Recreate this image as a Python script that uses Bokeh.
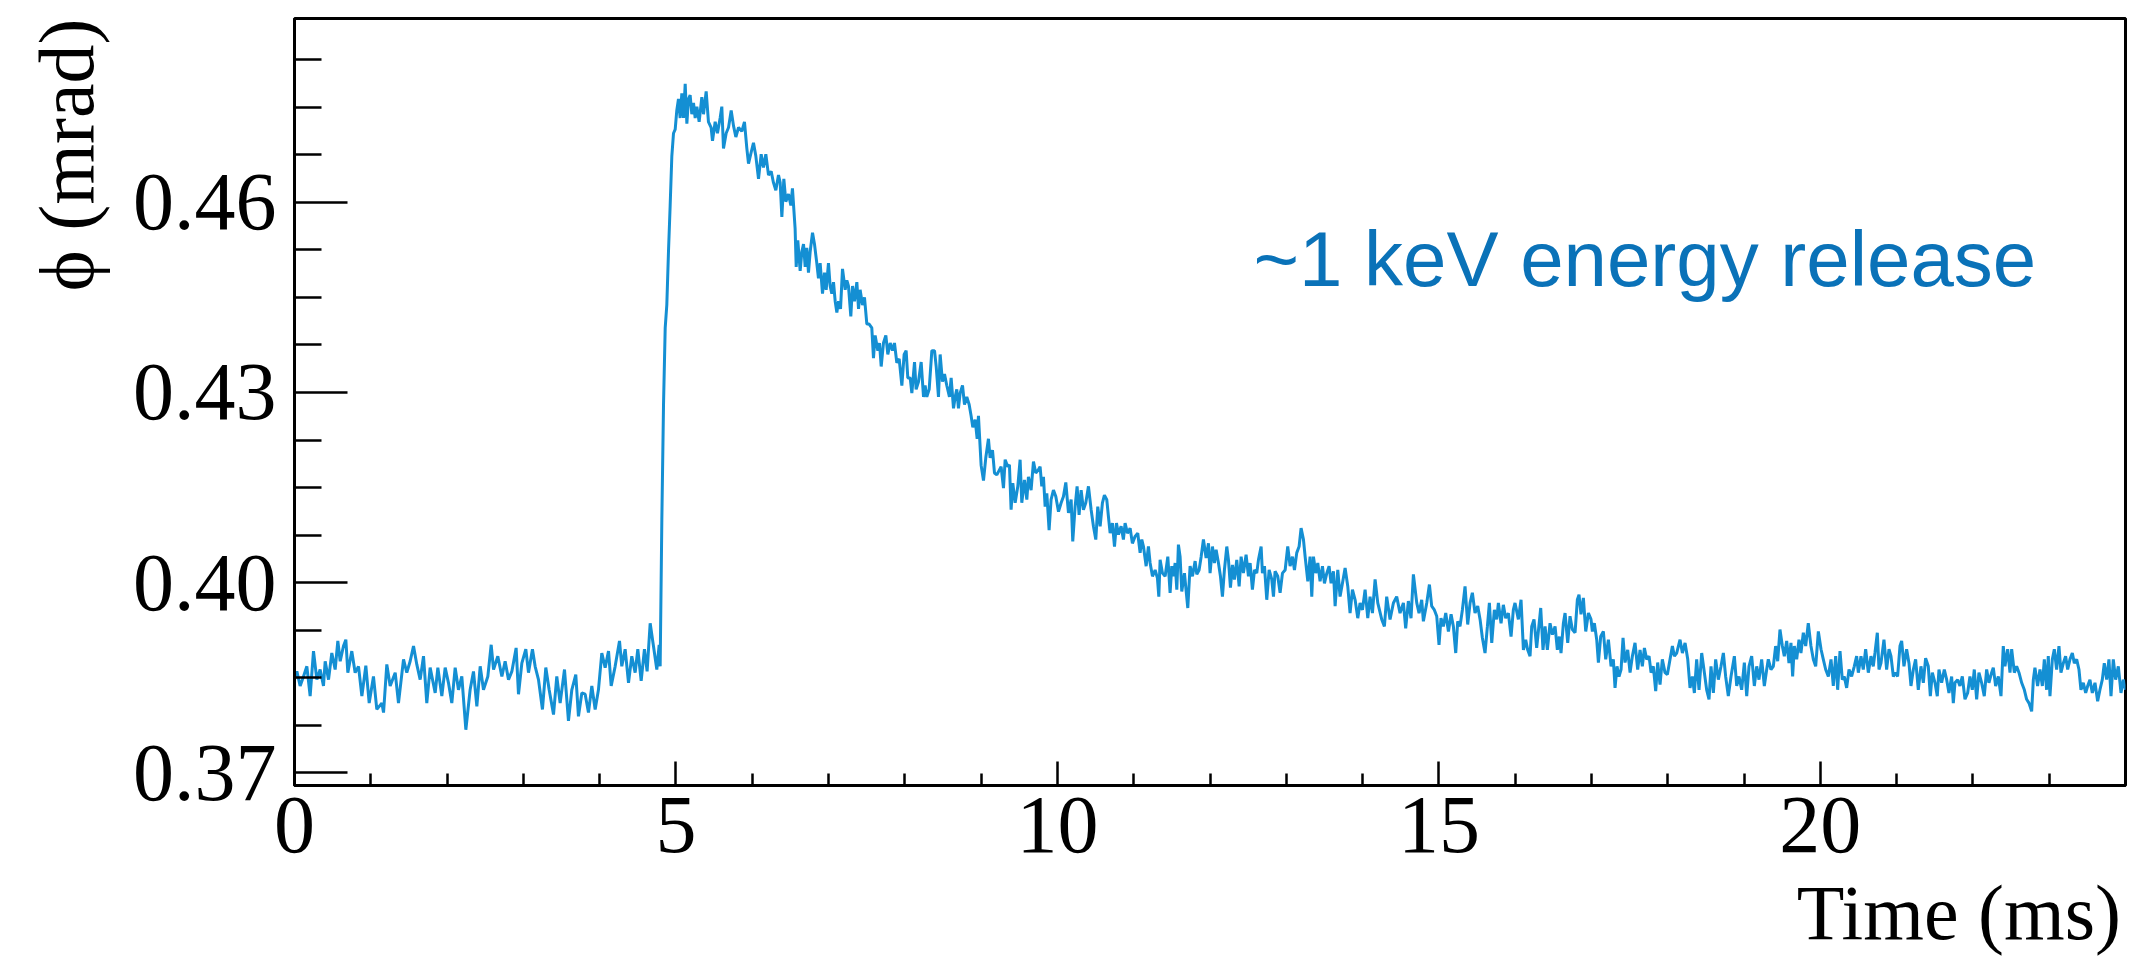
import math
from bokeh.plotting import figure
from bokeh.models import FixedTicker, Label, Range1d, PrintfTickFormatter, Title
from bokeh.embed import file_html
from bokeh.resources import INLINE

# ---- data: time (ms) and phase (mrad) ----
time_ms = [
    0.0, 0.031, 0.074, 0.118, 0.162, 0.205, 0.249, 0.293, 0.336, 0.380, 0.402, 0.446, 0.489, 0.533,
    0.568, 0.599, 0.642, 0.673, 0.699, 0.751, 0.795, 0.839, 0.883, 0.935, 0.979, 1.035, 1.079, 1.145,
    1.167, 1.210, 1.254, 1.320, 1.363, 1.429, 1.472, 1.516, 1.560, 1.603, 1.647, 1.691, 1.734, 1.778,
    1.844, 1.879, 1.931, 1.975, 2.018, 2.062, 2.106, 2.149, 2.193, 2.246, 2.302, 2.346, 2.390, 2.434,
    2.477, 2.534, 2.578, 2.609, 2.665, 2.718, 2.761, 2.805, 2.849, 2.905, 2.936, 2.980, 3.032, 3.067,
    3.119, 3.154, 3.198, 3.250, 3.294, 3.338, 3.395, 3.438, 3.482, 3.539, 3.591, 3.635, 3.687, 3.722,
    3.766, 3.810, 3.853, 3.897, 3.941, 3.984, 4.028, 4.072, 4.116, 4.151, 4.203, 4.260, 4.290, 4.334,
    4.378, 4.421, 4.465, 4.500, 4.544, 4.587, 4.622, 4.662, 4.705, 4.749, 4.780, 4.793,
    # rise and decay
    4.815, 4.837, 4.859, 4.880, 4.902, 4.924, 4.946, 4.968, 4.990, 5.011, 5.033, 5.055, 5.077, 5.099,
    5.121, 5.143, 5.164, 5.186, 5.208, 5.230, 5.252, 5.274, 5.304, 5.339, 5.361, 5.396, 5.426, 5.461,
    5.479, 5.514, 5.544, 5.579, 5.601, 5.623, 5.658, 5.689, 5.724, 5.754, 5.785, 5.820, 5.863, 5.898,
    5.929, 5.951, 5.986, 6.016, 6.047, 6.082, 6.117, 6.147, 6.178, 6.213, 6.248, 6.278, 6.309, 6.344,
    6.366, 6.388, 6.414, 6.440, 6.475, 6.506, 6.527, 6.562, 6.576, 6.597, 6.628, 6.650, 6.672, 6.694,
    6.715, 6.737, 6.759, 6.790, 6.816, 6.846, 6.868, 6.890, 6.921, 6.947, 6.969, 6.999, 7.021, 7.043,
    7.065, 7.087, 7.109, 7.130, 7.157, 7.183, 7.218, 7.240, 7.261, 7.292, 7.314, 7.340, 7.371, 7.393,
    7.414, 7.445, 7.471, 7.502, 7.532, 7.567, 7.589, 7.611, 7.646, 7.668, 7.690, 7.720, 7.751, 7.777,
    7.808, 7.838, 7.864, 7.895, 7.926, 7.961, 7.991, 8.017, 8.039, 8.070, 8.092, 8.127, 8.148, 8.179,
    8.214, 8.245, 8.266, 8.288, 8.319, 8.354, 8.389, 8.411, 8.441, 8.463, 8.493, 8.520, 8.550, 8.585,
    8.607, 8.638, 8.660, 8.681, 8.703, 8.725, 8.756, 8.782, 8.812, 8.843, 8.869, 8.891, 8.922, 8.948,
    8.965, 9.000, 9.031, 9.061, 9.096, 9.118, 9.149, 9.175, 9.206,
    # slow decay
    9.262, 9.293, 9.315, 9.349, 9.371, 9.393, 9.415, 9.446, 9.481, 9.511, 9.533, 9.568, 9.599, 9.620,
    9.655, 9.686, 9.716, 9.751, 9.773, 9.795, 9.817, 9.839, 9.861, 9.891, 9.917, 9.948, 9.979, 10.014,
    10.049, 10.079, 10.110, 10.145, 10.180, 10.201, 10.232, 10.258, 10.284, 10.311, 10.341, 10.372,
    10.407, 10.442, 10.472, 10.503, 10.529, 10.560, 10.590, 10.616, 10.647, 10.669, 10.691, 10.721,
    10.748, 10.774, 10.800, 10.835, 10.865, 10.887, 10.918, 10.953, 10.983, 11.018, 11.053, 11.084,
    11.106, 11.128, 11.163, 11.193, 11.215, 11.246, 11.281, 11.311, 11.329, 11.346, 11.377, 11.412,
    11.447, 11.477, 11.499, 11.521, 11.543, 11.565, 11.586, 11.608, 11.630, 11.665, 11.709, 11.739,
    11.770, 11.805, 11.827, 11.857, 11.884, 11.914, 11.949, 11.980, 12.001, 12.032, 12.058, 12.080,
    12.111, 12.137, 12.163, 12.189, 12.220, 12.242, 12.268, 12.294, 12.320, 12.351, 12.382, 12.408,
    12.438, 12.473, 12.504, 12.526, 12.556, 12.583, 12.613, 12.635, 12.670, 12.687, 12.714, 12.744,
    12.775, 12.810, 12.832, 12.853, 12.888, 12.919, 12.950, 12.985, 13.019, 13.050, 13.081, 13.107,
    13.137, 13.168, 13.194, 13.225, 13.247, 13.282, 13.312, 13.334, 13.356, 13.386, 13.413, 13.443,
    13.474, 13.500, 13.531, 13.561, 13.587, 13.618, 13.640, 13.675, 13.705, 13.736, 13.771, 13.806,
    13.836, 13.867, 13.902, 13.937, 13.967, 13.998, 14.033, 14.068, 14.098, 14.129, 14.164, 14.199,
    # tail
    14.251, 14.286, 14.316, 14.360, 14.404, 14.447, 14.491, 14.535, 14.565, 14.600, 14.635, 14.666,
    14.710, 14.740, 14.775, 14.797, 14.841, 14.876, 14.906, 14.941, 14.972, 15.002, 15.028, 15.059,
    15.090, 15.125, 15.160, 15.190, 15.221, 15.247, 15.277, 15.308, 15.343, 15.378, 15.409, 15.439,
    15.474, 15.509, 15.540, 15.570, 15.605, 15.636, 15.662, 15.693, 15.727, 15.758, 15.780, 15.815,
    15.845, 15.876, 15.911, 15.946, 15.976, 15.998, 16.042, 16.077, 16.108, 16.138, 16.164, 16.195,
    16.217, 16.247, 16.282, 16.304, 16.335, 16.365, 16.392, 16.422, 16.457, 16.488, 16.523, 16.553,
    16.579, 16.601, 16.632, 16.654, 16.689, 16.719, 16.750, 16.785, 16.815, 16.837, 16.863, 16.894,
    16.925, 16.960, 16.994, 17.012, 17.038, 17.069, 17.091, 17.121, 17.156, 17.187, 17.222, 17.257,
    17.287, 17.309, 17.335, 17.361, 17.388, 17.414, 17.440, 17.475, 17.506, 17.536, 17.571, 17.606,
    17.637, 17.667, 17.694, 17.724, 17.755, 17.781, 17.811, 17.842, 17.868, 17.899, 17.929, 17.964,
    17.995, 18.030, 18.061, 18.087, 18.117, 18.161, 18.192, 18.227, 18.262, 18.292, 18.323, 18.349,
    18.379, 18.410, 18.445, 18.480, 18.510, 18.541, 18.567, 18.598, 18.628, 18.663, 18.698, 18.729,
    18.759, 18.794, 18.829, 18.873, 18.904, 18.934, 18.969, 19.004, 19.035, 19.065, 19.100, 19.135,
    19.166, 19.196, 19.231, 19.266, 19.297,
    19.318, 19.353, 19.384, 19.414, 19.441, 19.471, 19.502, 19.528, 19.559, 19.589, 19.615, 19.637,
    19.659, 19.690, 19.720, 19.746, 19.777, 19.808, 19.842, 19.877, 19.908, 19.939, 19.974, 20.009,
    20.039, 20.070, 20.105, 20.140, 20.170, 20.201, 20.227, 20.258, 20.288, 20.314, 20.345, 20.376,
    20.410, 20.445, 20.476, 20.498, 20.533, 20.563, 20.594, 20.629, 20.664, 20.694, 20.716, 20.747,
    20.769, 20.795, 20.834, 20.869, 20.900, 20.926, 20.957, 20.987, 21.013, 21.044, 21.066, 21.096,
    21.131, 21.162, 21.188, 21.219, 21.249, 21.284, 21.319, 21.350, 21.380, 21.415, 21.442, 21.468,
    21.503, 21.533, 21.555, 21.590, 21.625, 21.656, 21.686, 21.721, 21.743, 21.765, 21.800, 21.830,
    21.861, 21.896, 21.931, 21.961, 21.992, 22.018, 22.049, 22.079, 22.114, 22.149, 22.180, 22.210,
    22.245, 22.267, 22.298, 22.333, 22.368, 22.398, 22.420, 22.455, 22.486, 22.508, 22.543, 22.573,
    22.604, 22.639, 22.674, 22.704, 22.735, 22.770, 22.792, 22.813, 22.848, 22.879, 22.910, 22.936,
    22.966, 22.988, 23.010, 23.041, 23.067, 23.097, 23.128, 23.154, 23.185, 23.215, 23.242, 23.272,
    23.303, 23.329, 23.360, 23.390, 23.416, 23.447, 23.478, 23.504, 23.534, 23.565, 23.600, 23.635,
    23.665, 23.696, 23.722, 23.753, 23.783, 23.810, 23.840, 23.871, 23.906, 23.941, 23.971, 24.0,
]

phi_mrad = [
    0.3847, 0.3860, 0.3837, 0.3852, 0.3868, 0.3821, 0.3892, 0.3847, 0.3863, 0.3837, 0.3876, 0.3847, 0.3889, 0.3863,
    0.3908, 0.3876, 0.3900, 0.3910, 0.3858, 0.3892, 0.3858, 0.3868, 0.3821, 0.3869, 0.3810, 0.3852, 0.3800, 0.3810,
    0.3795, 0.3871, 0.3837, 0.3858, 0.3810, 0.3879, 0.3858, 0.3876, 0.3900, 0.3871, 0.3847, 0.3884, 0.3810, 0.3866,
    0.3826, 0.3866, 0.3821, 0.3866, 0.3842, 0.3810, 0.3866, 0.3831, 0.3852, 0.3768, 0.3831, 0.3860, 0.3805, 0.3868,
    0.3831, 0.3852, 0.3902, 0.3863, 0.3884, 0.3852, 0.3876, 0.3847, 0.3860, 0.3897, 0.3824, 0.3873, 0.3895, 0.3858,
    0.3895, 0.3868, 0.3847, 0.3800, 0.3866, 0.3831, 0.3792, 0.3852, 0.3810, 0.3863, 0.3782, 0.3831, 0.3855, 0.3789,
    0.3826, 0.3824, 0.3795, 0.3837, 0.3800, 0.3831, 0.3889, 0.3866, 0.3892, 0.3837, 0.3868, 0.3908, 0.3868, 0.3895,
    0.3842, 0.3884, 0.3858, 0.3895, 0.3845, 0.3895, 0.3860, 0.3936, 0.3900, 0.3863, 0.3902, 0.3868,
    # rise and decay
    0.4100, 0.4281, 0.4402, 0.4438, 0.4522, 0.4595, 0.4673, 0.4709, 0.4715, 0.4745, 0.4763, 0.4733, 0.4772, 0.4733,
    0.4787, 0.4724, 0.4763, 0.4769, 0.4739, 0.4757, 0.4733, 0.4751, 0.4727, 0.4766, 0.4739, 0.4775, 0.4727, 0.4718,
    0.4697, 0.4727, 0.4709, 0.4733, 0.4751, 0.4685, 0.4709, 0.4718, 0.4745, 0.4721, 0.4703, 0.4718, 0.4712, 0.4727,
    0.4685, 0.4661, 0.4679, 0.4694, 0.4673, 0.4637, 0.4676, 0.4655, 0.4676, 0.4643, 0.4649, 0.4631, 0.4619, 0.4643,
    0.4631, 0.4577, 0.4637, 0.4601, 0.4613, 0.4595, 0.4622, 0.4558, 0.4498, 0.4540, 0.4492, 0.4522, 0.4534, 0.4498,
    0.4528, 0.4489, 0.4522, 0.4552, 0.4534, 0.4504, 0.4480, 0.4504, 0.4456, 0.4489, 0.4462, 0.4504, 0.4468, 0.4456,
    0.4474, 0.4444, 0.4426, 0.4444, 0.4432, 0.4495, 0.4462, 0.4477, 0.4468, 0.4420, 0.4468, 0.4444, 0.4474, 0.4432,
    0.4462, 0.4438, 0.4450, 0.4408, 0.4408, 0.4402, 0.4354, 0.4390, 0.4366, 0.4378, 0.4341, 0.4378, 0.4390, 0.4360,
    0.4378, 0.4366, 0.4378, 0.4347, 0.4353, 0.4311, 0.4360, 0.4366, 0.4323, 0.4323, 0.4299, 0.4348, 0.4305, 0.4317,
    0.4348, 0.4293, 0.4311, 0.4293, 0.4305, 0.4366, 0.4366, 0.4341, 0.4293, 0.4360, 0.4317, 0.4329, 0.4311, 0.4293,
    0.4323, 0.4275, 0.4293, 0.4305, 0.4275, 0.4299, 0.4311, 0.4281, 0.4293, 0.4281, 0.4263, 0.4245, 0.4257, 0.4227,
    0.4263, 0.4185, 0.4161, 0.4197, 0.4227, 0.4197, 0.4209, 0.4173, 0.4170,
    # slow decay
    0.4183, 0.4149, 0.4194, 0.4183, 0.4186, 0.4115, 0.4157, 0.4126, 0.4152, 0.4194, 0.4126, 0.4162, 0.4131, 0.4167,
    0.4146, 0.4191, 0.4173, 0.4178, 0.4183, 0.4152, 0.4167, 0.4120, 0.4141, 0.4083, 0.4131, 0.4146, 0.4136, 0.4112,
    0.4126, 0.4136, 0.4158, 0.4110, 0.4131, 0.4065, 0.4120, 0.4152, 0.4107, 0.4146, 0.4115, 0.4126,
    0.4152, 0.4115, 0.4089, 0.4068, 0.4120, 0.4089, 0.4126, 0.4138, 0.4131, 0.4104, 0.4078, 0.4094,
    0.4057, 0.4094, 0.4076, 0.4089, 0.4068, 0.4094, 0.4078, 0.4086, 0.4062, 0.4073, 0.4078, 0.4047,
    0.4068, 0.4057, 0.4026, 0.4057, 0.4031, 0.4010, 0.4020, 0.4007, 0.3978, 0.4036, 0.4015, 0.4010,
    0.4041, 0.3984, 0.4026, 0.4010, 0.4031, 0.3989, 0.4060, 0.4041, 0.3986, 0.4015, 0.3960, 0.4026,
    0.4010, 0.4034, 0.4013, 0.4020, 0.4041, 0.4068, 0.4039, 0.4062, 0.4015, 0.4057, 0.4031, 0.4052,
    0.4031, 0.4010, 0.3978, 0.4020, 0.4057, 0.4036, 0.3992, 0.4028, 0.4005, 0.4036, 0.3994, 0.4041,
    0.4015, 0.4044, 0.4010, 0.4031, 0.3989, 0.4020, 0.4015, 0.4036, 0.4057, 0.4015, 0.4026, 0.3973,
    0.4020, 0.4005, 0.3978, 0.4018, 0.4010, 0.3984, 0.4015, 0.4020, 0.4057, 0.4026, 0.4041, 0.4020,
    0.4047, 0.4057, 0.4086, 0.4068, 0.4041, 0.4002, 0.4041, 0.3978, 0.4041, 0.4015, 0.4031, 0.4002,
    0.4026, 0.3999, 0.4015, 0.4026, 0.3999, 0.4018, 0.3963, 0.4020, 0.3978, 0.3999, 0.4023, 0.3994,
    0.3952, 0.3989, 0.3973, 0.3944, 0.3968, 0.3957, 0.3989, 0.3944, 0.3978, 0.3952, 0.4005, 0.3968,
    # tail
    0.3942, 0.3931, 0.3978, 0.3942, 0.3968, 0.3978, 0.3952, 0.3968, 0.3928, 0.3971, 0.3944, 0.4013,
    0.3968, 0.3952, 0.3973, 0.3939, 0.3968, 0.3997, 0.3963, 0.3957, 0.3947, 0.3902, 0.3944, 0.3931,
    0.3952, 0.3923, 0.3950, 0.3931, 0.3889, 0.3939, 0.3931, 0.3957, 0.3994, 0.3934, 0.3968, 0.3984,
    0.3952, 0.3963, 0.3942, 0.3913, 0.3889, 0.3931, 0.3968, 0.3905, 0.3957, 0.3942, 0.3968, 0.3936,
    0.3965, 0.3944, 0.3952, 0.3915, 0.3957, 0.3968, 0.3942, 0.3973, 0.3894, 0.3910, 0.3894, 0.3884,
    0.3931, 0.3942, 0.3897, 0.3923, 0.3960, 0.3894, 0.3931, 0.3894, 0.3936, 0.3918, 0.3931, 0.3894,
    0.3915, 0.3889, 0.3936, 0.3952, 0.3905, 0.3947, 0.3926, 0.3921, 0.3973, 0.3981, 0.3950, 0.3976,
    0.3923, 0.3952, 0.3942, 0.3923, 0.3936, 0.3910, 0.3874, 0.3915, 0.3923, 0.3879, 0.3910, 0.3868,
    0.3879, 0.3834, 0.3868, 0.3852, 0.3863, 0.3913, 0.3874, 0.3894, 0.3858, 0.3884, 0.3905, 0.3863,
    0.3894, 0.3868, 0.3897, 0.3879, 0.3884, 0.3858, 0.3868, 0.3829, 0.3874, 0.3839, 0.3879, 0.3858,
    0.3855, 0.3879, 0.3900, 0.3884, 0.3889, 0.3910, 0.3889, 0.3905, 0.3879, 0.3834, 0.3852, 0.3826,
    0.3879, 0.3831, 0.3889, 0.3858, 0.3831, 0.3816, 0.3868, 0.3826, 0.3879, 0.3847, 0.3868, 0.3889,
    0.3852, 0.3821, 0.3852, 0.3884, 0.3837, 0.3852, 0.3831, 0.3874, 0.3821, 0.3868, 0.3884, 0.3837,
    0.3868, 0.3847, 0.3879, 0.3837, 0.3863,
    0.3879, 0.3863, 0.3868, 0.3900, 0.3876, 0.3926, 0.3900, 0.3884, 0.3908, 0.3873, 0.3905, 0.3852,
    0.3900, 0.3879, 0.3910, 0.3889, 0.3921, 0.3900, 0.3936, 0.3900, 0.3879, 0.3868, 0.3923, 0.3895,
    0.3879, 0.3863, 0.3852, 0.3879, 0.3837, 0.3884, 0.3831, 0.3892, 0.3847, 0.3852, 0.3834, 0.3863,
    0.3852, 0.3868, 0.3884, 0.3858, 0.3884, 0.3863, 0.3895, 0.3858, 0.3884, 0.3868, 0.3889, 0.3921,
    0.3863, 0.3873, 0.3910, 0.3863, 0.3895, 0.3884, 0.3852, 0.3858, 0.3852, 0.3900, 0.3908, 0.3868,
    0.3895, 0.3873, 0.3837, 0.3863, 0.3879, 0.3831, 0.3868, 0.3842, 0.3881, 0.3868, 0.3821, 0.3858,
    0.3842, 0.3821, 0.3863, 0.3842, 0.3863, 0.3847, 0.3826, 0.3852, 0.3810, 0.3842, 0.3847, 0.3837,
    0.3852, 0.3816, 0.3826, 0.3852, 0.3831, 0.3863, 0.3816, 0.3858, 0.3842, 0.3821, 0.3863, 0.3842,
    0.3858, 0.3866, 0.3837, 0.3852, 0.3821, 0.3900, 0.3868, 0.3895, 0.3858, 0.3895, 0.3858, 0.3868,
    0.3858, 0.3842, 0.3831, 0.3816, 0.3810, 0.3797, 0.3847, 0.3866, 0.3837, 0.3863, 0.3837, 0.3879,
    0.3831, 0.3884, 0.3821, 0.3879, 0.3895, 0.3863, 0.3900, 0.3858, 0.3873, 0.3884, 0.3863, 0.3879,
    0.3889, 0.3873, 0.3879, 0.3863, 0.3831, 0.3842, 0.3826, 0.3837, 0.3847, 0.3826, 0.3842, 0.3813,
    0.3831, 0.3847, 0.3873, 0.3847, 0.3879, 0.3821, 0.3879, 0.3847, 0.3868, 0.3826, 0.3847, 0.3831,
]

x_major_ticks = [0, 5, 10, 15, 20]
x_minor_ticks = [1, 2, 3, 4, 6, 7, 8, 9, 11, 12, 13, 14, 16, 17, 18, 19, 21, 22, 23]
y_major_ticks = [0.37, 0.40, 0.43, 0.46]
y_minor_ticks = [0.3775, 0.385, 0.3925, 0.4075, 0.415, 0.4225, 0.4375, 0.445, 0.4525,
                 0.4675, 0.475, 0.4825]
x_title = "Time (ms)"
y_title = "\u03d5 (mrad)"
note_text = "~1 keV energy release"

SERIF = "Liberation Serif"

p = figure(width=2140, height=958,
           x_range=Range1d(0, 24), y_range=Range1d(0.368, 0.489),
           output_backend="svg", toolbar_location=None,
           min_border_left=294, min_border_right=15,
           min_border_top=18, min_border_bottom=172)
p.background_fill_color = "white"
p.border_fill_color = "white"
p.grid.visible = False
p.outline_line_color = "black"
p.outline_line_width = 3

p.line(time_ms, phi_mrad, line_color="#148fd3", line_width=3)

xa = p.xaxis[0]
xa.ticker = FixedTicker(ticks=x_major_ticks, minor_ticks=x_minor_ticks)
xa.major_tick_in = 24
xa.major_tick_out = 0
xa.minor_tick_in = 12
xa.minor_tick_out = 0

ya = p.yaxis[0]
ya.ticker = FixedTicker(ticks=y_major_ticks, minor_ticks=y_minor_ticks)
ya.formatter = PrintfTickFormatter(format="%.2f")
ya.major_tick_in = 53
ya.major_tick_out = 0
ya.minor_tick_in = 27
ya.minor_tick_out = 0

for ax in (xa, ya):
    ax.axis_line_width = 3
    ax.axis_line_color = "black"
    ax.major_tick_line_width = 2.5
    ax.minor_tick_line_width = 2.5
    ax.major_tick_line_color = "black"
    ax.minor_tick_line_color = "black"
    ax.major_label_text_font = SERIF
    ax.major_label_text_font_size = "82px"
    ax.major_label_text_color = "black"

xa.major_label_standoff = 12
ya.major_label_standoff = 18

# x title: the axis' own label, centred on the frame; leading em spaces push
# the visible words to the right end of the axis, as in the reference
lead = "\u2003" * 19 + "\u2009"
xa.axis_label = lead + x_title
xa.axis_label_text_font = SERIF
xa.axis_label_text_font_size = "78px"
xa.axis_label_text_font_style = "normal"
xa.axis_label_text_color = "black"
xa.axis_label_standoff_mode = "axis"
xa.axis_label_standoff = 83

# y title: a side-panel title aligned to the top of the frame
y_title_model = Title(text=y_title, align="right", text_font=SERIF,
                      text_font_size="78px", text_font_style="normal",
                      text_color="black", standoff=40)
p.add_layout(y_title_model, "left")

p.add_layout(Label(x=12.57, y=0.4511, text=note_text, text_align="left",
                   text_baseline="alphabetic", text_font="Liberation Sans",
                   text_font_size="78px", text_color="#0a72b8"))

open("out.html", "w").write(file_html(p, INLINE))
